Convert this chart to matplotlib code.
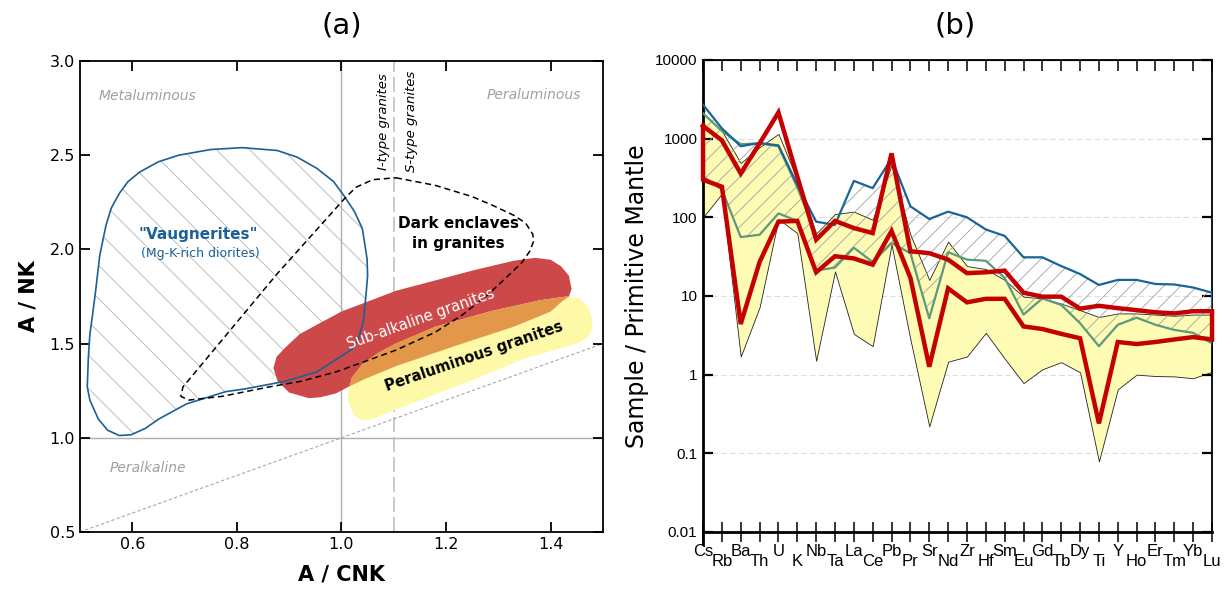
import matplotlib.pyplot as plt
from matplotlib.patches import Polygon
import numpy as np

# panel (a): field outlines in A/CNK - A/NK space
vaug_x = [0.598, 0.625, 0.651, 0.704, 0.779, 0.817, 0.893, 0.953, 0.998, 1.020, 1.032, 1.042,
          1.047, 1.050, 1.049, 1.040, 1.025, 1.006, 0.985, 0.953, 0.915, 0.877, 0.810, 0.750,
          0.689, 0.650, 0.614, 0.592, 0.576, 0.560, 0.550, 0.538, 0.530, 0.524, 0.519, 0.516,
          0.514, 0.519, 0.535, 0.553, 0.575]
vaug_y = [1.016, 1.05, 1.10, 1.18, 1.245, 1.26, 1.30, 1.35, 1.43, 1.47, 1.52, 1.62,
          1.76, 1.86, 1.95, 2.11, 2.20, 2.28, 2.36, 2.43, 2.49, 2.525, 2.54, 2.53,
          2.50, 2.465, 2.41, 2.36, 2.30, 2.22, 2.13, 1.97, 1.78, 1.65, 1.55, 1.42,
          1.27, 1.20, 1.10, 1.04, 1.012]

encl_x = [1.104, 1.179, 1.250, 1.292, 1.330, 1.352, 1.366, 1.367, 1.360, 1.345, 1.315, 1.280,
          1.230, 1.179, 1.104, 1.040, 0.99, 0.923, 0.862, 0.772, 0.708, 0.693, 0.697, 0.757,
          0.877, 1.006, 1.028, 1.060, 1.104]
encl_y = [2.38, 2.34, 2.28, 2.23, 2.18, 2.14, 2.08, 2.04, 1.99, 1.93, 1.85, 1.76,
          1.65, 1.56, 1.465, 1.40, 1.35, 1.30, 1.27, 1.22, 1.20, 1.22, 1.27, 1.47,
          1.87, 2.27, 2.33, 2.37, 2.38]

subalk_x = [0.938, 0.90, 0.878, 0.870, 0.876, 0.893, 0.920, 0.953, 1.0, 1.104, 1.254, 1.33,
            1.37, 1.40, 1.42, 1.435, 1.44, 1.435, 1.42, 1.40, 1.33, 1.22, 1.104, 1.043,
            1.013, 0.99, 0.96]
subalk_y = [1.21, 1.24, 1.30, 1.37, 1.43, 1.48, 1.55, 1.60, 1.67, 1.78, 1.89, 1.94,
            1.955, 1.945, 1.91, 1.86, 1.79, 1.75, 1.72, 1.67, 1.59, 1.49, 1.38, 1.31,
            1.27, 1.236, 1.215]

peral_x = [1.013, 1.02, 1.04, 1.07, 1.104, 1.18, 1.29, 1.38, 1.43, 1.455, 1.47, 1.478,
           1.48, 1.47, 1.45, 1.35, 1.254, 1.17, 1.104, 1.06, 1.04, 1.024, 1.013]
peral_y = [1.25, 1.32, 1.39, 1.45, 1.50, 1.59, 1.675, 1.73, 1.75, 1.74, 1.70, 1.65,
           1.58, 1.53, 1.50, 1.42, 1.31, 1.22, 1.15, 1.10, 1.09, 1.12, 1.19]

# panel (b): primitive-mantle normalised spider diagram
elements = ['Cs', 'Rb', 'Ba', 'Th', 'U', 'K', 'Nb', 'Ta', 'La', 'Ce', 'Pb', 'Pr', 'Sr', 'Nd',
            'Zr', 'Hf', 'Sm', 'Eu', 'Gd', 'Tb', 'Dy', 'Ti', 'Y', 'Ho', 'Er', 'Tm', 'Yb', 'Lu']
vaug_top = [2700, 1350, 800, 880, 820, 260, 88, 80, 290, 235, 560, 138, 95, 118,
            100, 70, 58, 31, 31, 24, 19, 13.8, 16, 16, 14.2, 14, 12.8, 11]
vaug_bottom = [330, 225, 56, 60, 112, 90, 21, 23, 41, 27, 47, 35, 5.2, 36,
               29, 28, 17, 5.8, 9.3, 7.7, 4.5, 2.3, 4.3, 5.3, 4.3, 3.7, 3.4, 2.5]
green_upper = [2100, 1250, 850, 870, 800, 240, 60]
gran_top = [2100, 1250, 490, 780, 1150, 300, 62, 110, 118, 93, 465, 60, 16, 49,
            24, 22, 16, 9.8, 9.3, 8, 6.6, 5.4, 6.0, 6.0, 5.8, 5.6, 5.8, 5.8]
gran_bottom = [100, 200, 1.7, 7.2, 95, 63, 1.5, 20.5, 3.3, 2.3, 45, 2.8, 0.22, 1.46,
               1.7, 3.4, 1.6, 0.78, 1.17, 1.44, 1.07, 0.079, 0.65, 1.0, 0.96, 0.95, 0.9, 1.09]
encl_top = [1450, 950, 360, 870, 2150, 330, 52, 90, 73, 63, 650, 37, 35, 29,
            19.5, 20, 21, 11, 9.8, 9.8, 6.9, 7.5, 7.0, 6.6, 6.2, 6.0, 6.4, 6.4]
encl_bottom = [300, 245, 4.4, 27, 88, 90, 20, 32, 30, 25, 67, 17, 1.26, 12.5,
               8.3, 9.2, 9.2, 4.1, 3.8, 3.3, 2.9, 0.24, 2.6, 2.45, 2.6, 2.8, 3.0, 2.8]

plt.rcParams['hatch.linewidth'] = 0.6
narrow = ['Liberation Sans Narrow', 'Liberation Sans']

fig = plt.figure(figsize=(12.28, 5.99), dpi=100)
ax1 = fig.add_axes([0.0651, 0.1119, 0.4259, 0.7863])
ax2 = fig.add_axes([0.5725, 0.1119, 0.4145, 0.7880])

# ---------- (a)
ax1.set_xlim(0.5, 1.5)
ax1.set_ylim(0.5, 3.0)
ax1.set_xticks([0.6, 0.8, 1.0, 1.2, 1.4])
ax1.set_yticks([0.5, 1.0, 1.5, 2.0, 2.5, 3.0])
ax1.tick_params(direction='in', length=7, width=1.3, top=True, right=True, labelsize=11.5)
for s in ax1.spines.values():
    s.set_linewidth(1.3)

ax1.axvline(1.0, color='#b0b0b0', lw=1, zorder=0)
ax1.axhline(1.0, color='#b0b0b0', lw=1, zorder=0)
ax1.axvline(1.1, color='#c0c0c0', lw=1.2, dashes=(9, 3), zorder=0)
ax1.plot([0.5, 1.5], [0.5, 1.5], color='#a8a8a8', lw=0.8, dashes=(3, 2), zorder=0)

vaug = list(zip(vaug_x, vaug_y))
ax1.add_patch(Polygon(vaug, closed=True, facecolor='none', edgecolor='#b4b4b4', hatch='\\', lw=0, zorder=1))
ax1.add_patch(Polygon(vaug, closed=True, facecolor='none', edgecolor='#1b6096', lw=1.2, zorder=3))

ax1.add_patch(Polygon(list(zip(subalk_x, subalk_y)), closed=True, facecolor='#cd4949', lw=0, zorder=2))
peral = Polygon(list(zip(peral_x, peral_y)), closed=True, facecolor='#fdf9a8', lw=0, zorder=2)
ax1.add_patch(peral)
overlap = Polygon(list(zip(subalk_x, subalk_y)), closed=True, facecolor='#e3974a', lw=0, zorder=2)
ax1.add_patch(overlap)
overlap.set_clip_path(peral)

ax1.plot(encl_x, encl_y, color='black', lw=1.1, dashes=(4, 2.5), zorder=4)

ax1.text(0.629, 2.816, 'Metaluminous', color='#a0a0a0', style='italic', fontsize=10, ha='center', va='center')
ax1.text(1.367, 2.82, 'Peraluminous', color='#a0a0a0', style='italic', fontsize=10, ha='center', va='center')
ax1.text(0.63, 0.84, 'Peralkaline', color='#a0a0a0', style='italic', fontsize=10, ha='center', va='center')
ax1.text(1.081, 2.68, 'I-type granites', style='italic', fontsize=9.5, rotation=90, ha='center', va='center')
ax1.text(1.134, 2.68, 'S-type granites', style='italic', fontsize=9.5, rotation=90, ha='center', va='center')
ax1.text(0.727, 2.077, '"Vaugnerites"', color='#1b6096', fontweight='bold', fontsize=11, ha='center', va='center')
ax1.text(0.73, 1.977, '(Mg-K-rich diorites)', color='#1b6096', fontsize=9, ha='center', va='center')
ax1.text(1.224, 2.138, 'Dark enclaves', fontweight='bold', fontsize=11, ha='center', va='center', zorder=5)
ax1.text(1.224, 2.033, 'in granites', fontweight='bold', fontsize=11, ha='center', va='center', zorder=5)
ax1.text(1.152, 1.633, 'Sub-alkaline granites', color='white', fontsize=10.5, rotation=19.5,
         ha='center', va='center', zorder=5)
ax1.text(1.254, 1.43, 'Peraluminous granites', color='black', fontweight='semibold', fontsize=10.5,
         rotation=19, ha='center', va='center', zorder=5)

ax1.set_xlabel('A / CNK', fontsize=15, fontweight='bold', labelpad=9)
ax1.set_ylabel('A / NK', fontsize=15, fontweight='bold', labelpad=8)

# ---------- (b)
x = np.arange(len(elements))
ax2.set_yscale('log')
ax2.set_ylim(0.01, 10000)
ax2.set_xlim(0, len(elements) - 1)
ax2.minorticks_off()
ax2.set_yticks([0.01, 0.1, 1, 10, 100, 1000, 10000])
ax2.set_yticklabels(['0.01', '0.1', '1', '10', '100', '1000', '10000'], family=narrow, fontsize=11)
ax2.set_xticks(x)
ax2.set_xticklabels(elements, family=narrow, fontsize=12)
ax2.tick_params(axis='y', direction='in', length=7, width=1.6, left=True, right=True, pad=4)
ax2.tick_params(axis='x', direction='inout', length=14, width=1.1, top=False)
for i, t in enumerate(ax2.xaxis.get_major_ticks()):
    t.set_pad(2 if i % 2 == 0 else 9)
ax2.spines['left'].set_linewidth(2)
ax2.spines['bottom'].set_linewidth(2)
ax2.spines['top'].set_linewidth(1.3)
ax2.spines['right'].set_linewidth(1.3)
ax2.plot([0, 0], [0, -0.025], transform=ax2.transAxes, color='black', lw=2, clip_on=False)
top = ax2.secondary_xaxis('top')
top.set_xticks(x)
top.set_xticklabels([])
top.tick_params(direction='in', length=8, width=1.1)

for v in [0.01, 0.1, 1, 10, 100, 1000]:
    ax2.axhline(v, color='#dddddd', lw=0.8, dashes=(5, 3), zorder=0)

ax2.fill_between(x, gran_bottom, gran_top, facecolor='#fdfbb4', edgecolor='#222222', lw=0.6, zorder=1)
ax2.fill_between(x, vaug_bottom, vaug_top, facecolor='none', edgecolor='#a0a0a0', hatch='//', lw=0, zorder=2)
ax2.plot(x, vaug_bottom, color='#5c9a7a', lw=1.6, zorder=3)
ax2.plot(x[:len(green_upper)], green_upper, color='#5c9a7a', lw=1.6, zorder=3)
ax2.plot(np.r_[x, x[-1]], np.r_[vaug_top, vaug_bottom[-1]], color='#1a6496', lw=1.6, zorder=3)
ax2.plot(np.r_[x, x[::-1], x[:1]], np.r_[encl_top, encl_bottom[::-1], encl_top[:1]],
         color='#c50000', lw=3.2, solid_joinstyle='miter', zorder=4, clip_on=False)

ax2.set_ylabel('Sample / Primitive Mantle', fontsize=17, labelpad=4)

fig.text(0.2785, 0.958, '(a)', fontsize=21, ha='center', va='center')
fig.text(0.7777, 0.958, '(b)', fontsize=21, ha='center', va='center')

fig.savefig('out.png', dpi=100)
